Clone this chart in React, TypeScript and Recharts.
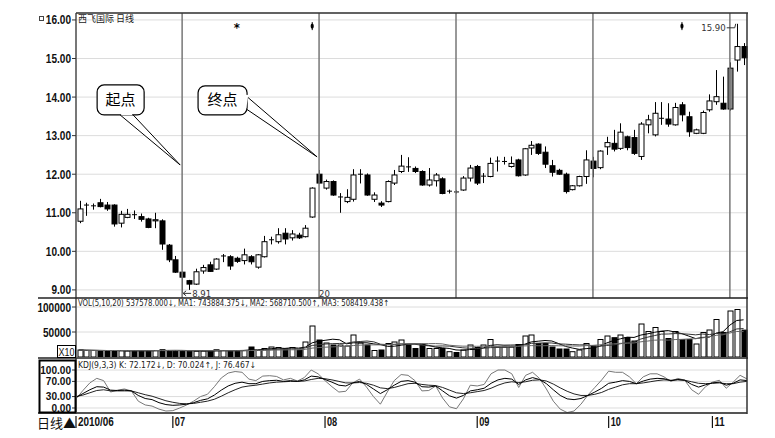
import React from 'react'
import {
    Bar,
    CartesianGrid,
    ComposedChart,
    Line,
    ReferenceDot,
    ReferenceLine,
    XAxis,
    YAxis,
} from 'recharts'

// daily candles, 2010/06 .. 2010/11
const opens = [
    10.78, 11.18, 11.16, 11.26, 11.2, 11.2, 10.73, 10.88, 10.95, 10.9,
    10.84, 10.79, 10.79, 10.16, 9.78, 9.46, 9.24, 9.15, 9.49, 9.65,
    9.54, 9.87, 9.86, 9.82, 9.76, 9.86, 9.59, 9.86, 10.29, 10.25,
    10.47, 10.35, 10.42, 10.38, 10.89, 12.0, 11.64, 11.81, 11.4, 11.29,
    11.35, 11.98, 11.98, 11.35, 11.25, 11.29, 11.77, 12.07, 12.19, 12.15,
    12.07, 11.72, 11.83, 11.88, 11.55, 11.54, 11.59, 11.9, 12.2, 11.94,
    11.94, 12.33, 12.33, 12.2, 12.37, 11.98, 12.68, 12.78, 12.57, 12.22,
    12.1, 12.0, 11.6, 11.7, 11.94, 12.34, 12.17, 12.71, 12.8, 12.67,
    12.97, 12.95, 12.46, 13.28, 13.02, 13.44, 13.43, 13.28, 13.8, 13.49,
    13.06, 13.06, 13.67, 13.88, 13.84, 13.69, 14.96, 15.31,
]
const highs = [
    11.31, 11.26, 11.24, 11.36, 11.28, 11.22, 11.05, 11.1, 11.06, 10.98,
    10.87, 11.0, 10.83, 10.19, 9.88, 9.48, 9.26, 9.55, 9.65, 9.73,
    9.82, 9.93, 9.9, 9.86, 10.07, 9.9, 9.93, 10.4, 10.38, 10.6,
    10.6, 10.55, 10.48, 10.68, 11.66, 12.11, 11.86, 11.84, 11.51, 11.61,
    12.13, 12.13, 12.02, 11.53, 11.3, 11.84, 12.11, 12.5, 12.44, 12.2,
    12.1, 12.16, 12.03, 11.92, 11.6, 11.58, 11.95, 12.24, 12.24, 12.03,
    12.43, 12.46, 12.45, 12.46, 12.4, 12.68, 12.86, 12.8, 12.72, 12.37,
    12.14, 12.04, 11.72, 11.96, 12.62, 12.45, 12.62, 12.97, 13.15, 13.32,
    13.0, 13.15, 13.35, 13.54, 13.87, 13.87, 13.84, 13.85, 13.87, 13.62,
    13.18, 13.65, 14.07, 14.7, 14.53, 14.9, 15.9, 15.4,
]
const lows = [
    10.73, 10.92, 11.08, 11.14, 11.05, 10.64, 10.62, 10.86, 10.84, 10.77,
    10.6, 10.6, 10.04, 9.72, 9.44, 8.91, 9.0, 9.13, 9.42, 9.47,
    9.52, 9.72, 9.52, 9.7, 9.66, 9.66, 9.55, 9.84, 10.18, 10.2,
    10.18, 10.28, 10.32, 10.36, 10.87, 11.75, 11.6, 11.44, 11.0, 11.25,
    11.29, 11.76, 11.44, 11.28, 11.15, 11.27, 11.72, 12.03, 12.06, 12.03,
    11.7, 11.68, 11.68, 11.48, 11.5, 11.5, 11.57, 11.81, 11.72, 11.77,
    11.92, 12.07, 12.25, 12.17, 11.94, 11.96, 12.5, 12.5, 12.16, 11.94,
    11.98, 11.5, 11.58, 11.68, 11.75, 11.92, 12.13, 12.5, 12.59, 12.63,
    12.62, 12.5, 12.37, 13.06, 12.98, 13.28, 13.23, 13.26, 13.37, 12.97,
    13.04, 13.04, 13.62, 13.8, 13.67, 13.65, 14.66, 14.83,
]
const closes = [
    11.1, 11.2, 11.18, 11.16, 11.1, 10.71, 10.96, 10.96, 10.93, 10.83,
    10.62, 10.82, 10.19, 9.78, 9.46, 9.33, 9.15, 9.47, 9.58, 9.48,
    9.8, 9.88, 9.62, 9.74, 9.91, 9.73, 9.91, 10.25, 10.3, 10.43,
    10.32, 10.45, 10.35, 10.6, 11.64, 11.77, 11.81, 11.46, 11.41, 11.4,
    11.98, 12.0, 11.46, 11.46, 11.2, 11.81, 11.98, 12.21, 12.18, 12.07,
    11.72, 11.85, 11.98, 11.5, 11.56, 11.53, 11.9, 12.16, 11.77, 11.95,
    12.28, 12.34, 12.33, 12.28, 11.96, 12.66, 12.75, 12.54, 12.26, 12.05,
    12.0, 11.55, 11.7, 11.94, 12.37, 12.15, 12.6, 12.82, 12.65, 13.09,
    12.69, 12.54, 13.3, 13.41, 13.58, 13.45, 13.3, 13.73, 13.54, 13.1,
    13.15, 13.6, 13.9, 14.01, 13.69, 14.75, 15.31, 15.02,
]

// volume in axis units (x10 shares), thousands
const volumes = [
    14, 13, 13, 12.5, 12.5, 13, 12.5, 12, 12, 12.5,
    13, 13, 14.5, 13, 13, 12.5, 11.5, 11.5, 12, 11.5,
    14.5, 13, 12.5, 13, 13, 20, 13, 17, 20, 19,
    17, 19, 14, 30, 62, 34, 28, 24, 24, 22,
    44, 28, 24, 13, 14, 27, 30, 34, 24, 17,
    24, 17, 17, 17, 10.6, 9, 14, 24, 19, 24,
    35, 20, 20, 20, 25, 42, 44, 27, 27, 20,
    16, 16, 10.6, 14, 27, 22, 35, 42, 38.6, 44,
    39, 32, 66, 51, 59, 51, 37, 51, 35, 35,
    26, 49, 54, 75, 49, 92, 95, 53.76,
]
const volMa5 = [
    14, 13.5, 13.3, 13.1, 13, 12.8, 12.7, 12.5, 12.4, 12.4,
    12.4, 12.5, 13, 13.2, 13.3, 13.2, 12.9, 12.3, 12.1, 11.8,
    12.2, 12.5, 12.7, 12.9, 13.2, 14.3, 14.3, 15.2, 16.6, 17.8,
    17.2, 18.4, 17.8, 19.8, 28.4, 31.8, 33.6, 35.6, 34.4, 26.4,
    28.4, 28.4, 28.4, 26.2, 24.6, 21.2, 21.6, 23.6, 25.8, 26.4,
    25.8, 23.2, 19.8, 18.4, 17.1, 14.1, 13.5, 14.9, 15.3, 18.2,
    23.2, 24.4, 23.6, 23.8, 24, 25.4, 30.2, 31.6, 33, 32,
    26.8, 21.2, 17.9, 15.3, 16.7, 17.9, 21.7, 28, 32.9, 36.3,
    39.7, 39.1, 43.9, 46.4, 49.4, 51.8, 52.8, 49.8, 46.6, 41.8,
    36.8, 39.2, 39.8, 47.8, 50.6, 63.8, 73, 74.4,
]
const volMa10 = [
    14, 13.5, 13.3, 13.1, 13, 13, 12.9, 12.8, 12.7, 12.7,
    12.6, 12.6, 12.75, 12.8, 12.85, 12.8, 12.7, 12.65, 12.65, 12.55,
    12.7, 12.7, 12.5, 12.5, 12.5, 13.25, 13.4, 13.95, 14.75, 15.5,
    15.75, 16.35, 16.5, 18.2, 23.1, 24.5, 26, 26.7, 27.1, 27.4,
    30.1, 31, 32, 30.3, 25.5, 24.8, 25, 26, 26, 25.5,
    23.5, 22.4, 21.7, 22.1, 21.8, 20, 18.4, 17.4, 16.9, 17.6,
    18.7, 19, 19.3, 19.6, 21, 24.3, 27.3, 27.6, 28.4, 28,
    26.1, 25.7, 24.8, 24.2, 24.4, 22.4, 21.5, 23, 24.1, 26.5,
    28.8, 30.4, 36, 39.7, 42.9, 45.8, 46, 46.9, 46.5, 45.6,
    44.3, 46, 44.8, 47.2, 46.2, 50.3, 56.1, 56.9,
]
const volMa20 = [
    14, 13.5, 13.3, 13.1, 13, 13, 12.9, 12.8, 12.7, 12.7,
    12.7, 12.75, 12.9, 12.9, 12.9, 12.9, 12.8, 12.7, 12.7, 12.6,
    12.65, 12.65, 12.6, 12.65, 12.7, 13, 13.05, 13.3, 13.7, 14,
    14.2, 14.5, 14.5, 15.35, 17.8, 18.9, 19.7, 20.3, 20.9, 21.45,
    22.9, 23.7, 24.25, 24.25, 24.3, 24.65, 25.5, 26.35, 26.55, 26.45,
    26.8, 26.7, 26.85, 26.2, 23.6, 22.4, 21.7, 21.7, 21.4, 21.5,
    21.1, 20.7, 20.5, 20.8, 21.4, 22.1, 22.8, 22.5, 22.6, 22.8,
    22.4, 22.3, 22, 21.9, 22.7, 23.3, 24.4, 25.3, 26.3, 27.3,
    27.5, 28.1, 30.4, 31.9, 33.6, 34.1, 33.7, 34.9, 35.3, 36.1,
    36.6, 38.2, 40.4, 43.4, 44.5, 48, 51, 50.8,
]

// KDJ(9,3,3)
const kLine = [
    28, 38, 48, 56, 55, 47, 46, 47, 45, 33,
    25, 22, 14, 9, 7, 8, 10, 14, 20, 24,
    34, 47, 58, 65, 68, 64, 64, 70, 72, 73,
    70, 72, 70, 74, 84, 82, 75, 68, 60, 58,
    66, 70, 62, 50, 38, 48, 60, 70, 72, 68,
    56, 55, 58, 45, 32, 26, 33, 45, 48, 52,
    65, 74, 78, 76, 62, 74, 80, 75, 64, 48,
    33, 24, 22, 25, 33, 42, 52, 65, 68, 72,
    70, 64, 71, 76, 78, 77, 72, 75, 73, 62,
    55, 61, 66, 68, 60, 65, 74, 72.17,
]
const dLine = [
    30, 34, 40, 46, 48, 45, 45, 45, 45, 40,
    35, 31, 25, 19, 15, 12, 11, 12, 15, 18,
    23, 31, 40, 48, 55, 58, 60, 63, 66, 68,
    69, 70, 70, 71, 75, 78, 77, 74, 70, 66,
    66, 67, 65, 60, 53, 51, 54, 59, 64, 65,
    62, 60, 59, 54, 47, 40, 38, 40, 43, 46,
    52, 60, 66, 69, 67, 69, 73, 74, 71, 63,
    53, 44, 37, 33, 33, 36, 41, 49, 55, 61,
    64, 64, 66, 69, 72, 74, 73, 74, 73, 69,
    65, 64, 65, 66, 64, 64, 68, 70.02,
]
const jLine = [
    24, 46, 66, 78, 72, 42, 47, 50, 45, 18,
    8, 5, -3, -8, -7, 0, 8, 18, 30, 36,
    56, 79, 92, 96, 94, 76, 72, 84, 85, 83,
    74, 78, 71, 80, 100, 90, 72, 56, 42, 44,
    66, 76, 55, 30, 10, 42, 72, 88, 86, 72,
    45, 46, 58, 26, 3, -2, 24, 60, 58, 62,
    90, 100, 100, 90, 54, 86, 94, 78, 50, 18,
    -3, -12, -8, 10, 34, 54, 74, 97, 94, 94,
    82, 64, 82, 90, 90, 82, 70, 78, 73, 48,
    36, 56, 68, 73, 52, 68, 86, 76.47,
]

const priceTicks = [9, 10, 11, 12, 13, 14, 15, 16]
const volTicks = [50, 100]
const kdjTicks = [0, 30, 70, 100]
const monthTicks = [0, 14, 36, 58, 77, 92]
const monthLabels = ['2010/06', '07', '08', '09', '10', '11']
const sectionLines = [15, 35, 55, 75, 95]
const infoMarks = [23, 34, 88]
const shadedCandles = [95]

const rows = opens.map((o, i) => ({
    i,
    o,
    h: highs[i],
    l: lows[i],
    c: closes[i],
    range: [lows[i], highs[i]],
    vol: volumes[i],
    ma5: volMa5[i],
    ma10: volMa10[i],
    ma20: volMa20[i],
    k: kLine[i],
    d: dLine[i],
    j: jLine[i],
}))

const axisFont = "'Liberation Sans', Arial, sans-serif"
const smallFont = "'DejaVu Sans Condensed', 'DejaVu Sans', sans-serif"
const cjkFont = "'Noto Sans CJK SC', 'Noto Sans', sans-serif"

// the terminal uses a narrow bold face; squeeze Liberation Sans to its width
function narrowWidth(s: string) {
    let w = 0
    for (const ch of s) w += ch === '.' ? 2.8 : ch === '/' ? 3.2 : 5.6
    return w
}

function ValueTick(props: any) {
    const { x, y, payload, fmt, size = 12.5 } = props
    const s = fmt(payload.value)
    return (
        <text
            x={x}
            y={y + size * 0.36}
            textAnchor='end'
            fontSize={size}
            fontWeight={700}
            fill='#111'
            fontFamily={axisFont}
            textLength={narrowWidth(s)}
            lengthAdjust='spacingAndGlyphs'
        >
            {s}
        </text>
    )
}

function Candle(props: any) {
    const { x, y, width, height, payload, index } = props
    const top = Math.min(y, y + height)
    const bot = Math.max(y, y + height)
    const span = payload.h - payload.l
    const k = span > 0 ? (bot - top) / span : 0
    const yo = top + (payload.h - payload.o) * k
    const yc = top + (payload.h - payload.c) * k
    const cx = Math.round(x + width / 2) + 0.5
    const up = payload.c >= payload.o
    const bTop = Math.min(yo, yc)
    const bBot = Math.max(yo, yc)
    const bx = cx - 2.5
    const fill = shadedCandles.includes(index) ? '#8a8a8a' : up ? '#fff' : '#000'
    return (
        <g>
            <line x1={cx} x2={cx} y1={top} y2={bot} stroke='#000' strokeWidth={1} />
            {bBot - bTop < 1 ? (
                <line x1={bx} x2={bx + 5} y1={bTop} y2={bTop} stroke='#000' strokeWidth={1} />
            ) : (
                <rect x={bx} y={bTop} width={5} height={bBot - bTop} fill={fill} stroke='#000' strokeWidth={1} />
            )}
        </g>
    )
}

function VolBar(props: any) {
    const { x, y, width, height, payload } = props
    const up = payload.c >= payload.o
    const cx = Math.round(x + width / 2) + 0.5
    return (
        <rect x={cx - 2.5} y={y} width={5} height={Math.max(height, 1)} fill={up ? '#fff' : '#000'} stroke='#000' strokeWidth={1} />
    )
}

function MonthTick(props: any) {
    const { x, y, payload } = props
    const s = monthLabels[monthTicks.indexOf(payload.value)]
    return (
        <g>
            <line x1={x} x2={x} y1={y + 3} y2={y + 15} stroke='#111' strokeWidth={1.2} />
            <text
                x={x + 2}
                y={y + 13}
                fontSize={12}
                fontWeight={700}
                fill='#111'
                fontFamily={axisFont}
                textLength={narrowWidth(s) - 1}
                lengthAdjust='spacingAndGlyphs'
            >
                {s}
            </text>
        </g>
    )
}

function callout(label: string, box: [number, number, number, number], baseA: [number, number], baseB: [number, number]) {
    return (p: any) => {
        const { cx, cy } = p
        const [bx, by, bw, bh] = box
        return (
            <g>
                <path
                    d={`M${cx + baseA[0]},${cy + baseA[1]} L${cx - 2},${cy} L${cx + baseB[0]},${cy + baseB[1]}`}
                    fill='#fff'
                    stroke='#000'
                    strokeWidth={1}
                />
                <rect x={cx + bx} y={cy + by} width={bw} height={bh} rx={7} fill='#fff' stroke='#000' strokeWidth={1.2} />
                <path
                    d={`M${cx + baseA[0] + 1},${cy + baseA[1] - 1} L${cx + baseB[0] - 1},${cy + baseB[1] - 1}`}
                    stroke='#fff'
                    strokeWidth={2.5}
                />
                <text
                    x={cx + bx + bw / 2}
                    y={cy + by + bh / 2 + 5}
                    textAnchor='middle'
                    fontSize={15}
                    fill='#000'
                    fontFamily={cjkFont}
                >
                    {label}
                </text>
            </g>
        )
    }
}

const startCallout = callout('起点', [-85, -80, 47, 30], [-62, -50], [-49, -50])
const endCallout = callout('终点', [-121, -71, 49, 29], [-73, -61], [-73, -48])

function LowMark(p: any) {
    const { cx, cy } = p
    return (
        <g>
            <path d={`M${cx + 1},${cy} L${cx + 9},${cy} M${cx + 1},${cy} L${cx + 4},${cy - 2.5} M${cx + 1},${cy} L${cx + 4},${cy + 2.5}`} stroke='#333' strokeWidth={1} fill='none' />
            <text x={cx + 10} y={cy + 3.5} fontSize={9.5} fill='#333' fontFamily={smallFont}>
                8.91
            </text>
        </g>
    )
}

function HighMark(p: any) {
    const { cx, cy } = p
    return (
        <g>
            <path d={`M${cx - 10},${cy + 4} L${cx - 2},${cy + 4} L${cx - 1},${cy}`} stroke='#333' strokeWidth={1} fill='none' />
            <text x={cx - 11} y={cy + 7.5} textAnchor='end' fontSize={9.5} fill='#333' fontFamily={smallFont}>
                15.90
            </text>
        </g>
    )
}

function CountMark(p: any) {
    const { cx, cy } = p
    return (
        <text x={cx} y={cy + 3.5} fontSize={9.5} fill='#333' fontFamily={smallFont}>
            20
        </text>
    )
}

function InfoMark(p: any) {
    const { cx, cy } = p
    if (p.kind === 0) {
        return (
            <text x={cx} y={cy + 6} textAnchor='middle' fontSize={13} fontWeight={700} fill='#000' fontFamily={smallFont}>
                *
            </text>
        )
    }
    return (
        <g>
            <line x1={cx} x2={cx} y1={cy - 4} y2={cy + 4} stroke='#000' strokeWidth={1} />
            <ellipse cx={cx} cy={cy} rx={1.6} ry={2.6} fill='#000' />
        </g>
    )
}

const fixed2 = (v: number) => v.toFixed(2)
const volFmt = (v: number) => String(v * 1000)

export default function App() {
    return (
        <div style={{ position: 'absolute', left: 0, top: 0, width: 775, height: 438, background: '#fff', overflow: 'hidden' }}>
            <div style={{ position: 'absolute', left: 0, top: 0 }}>
                <ComposedChart width={775} height={298} data={rows} margin={{ top: 13, right: 28, bottom: 0, left: 0 }}>
                    <CartesianGrid vertical={false} stroke='#dcdcdc' />
                    <XAxis dataKey='i' hide />
                    <YAxis
                        domain={[8.79, 16.18]}
                        ticks={priceTicks}
                        interval={0}
                        allowDataOverflow
                        width={76}
                        tick={(p: any) => <ValueTick {...p} fmt={fixed2} />}
                        tickSize={4}
                        tickMargin={1}
                        axisLine={{ stroke: '#777', strokeWidth: 2 }}
                        tickLine={{ stroke: '#333' }}
                    />
                    {sectionLines.map((i) => (
                        <ReferenceLine key={i} x={i} stroke='#777' strokeWidth={1.5} />
                    ))}
                    <Bar dataKey='range' barSize={5} shape={(p: any) => <Candle {...p} />} isAnimationActive={false} />
                    <ReferenceDot x={15} y={12.24} shape={startCallout} />
                    <ReferenceDot x={35} y={12.45} shape={endCallout} />
                    <ReferenceDot x={15} y={8.91} shape={LowMark} />
                    <ReferenceDot x={96} y={15.9} shape={HighMark} />
                    <ReferenceDot x={35} y={8.91} shape={CountMark} />
                    {infoMarks.map((i, n) => (
                        <ReferenceDot key={i} x={i} y={15.84} shape={(p: any) => <InfoMark {...p} kind={n} />} />
                    ))}
                </ComposedChart>
            </div>
            <div style={{ position: 'absolute', left: 0, top: 298 }}>
                <ComposedChart width={775} height={60} data={rows} margin={{ top: 0, right: 28, bottom: 1, left: 0 }}>
                    <CartesianGrid vertical={false} stroke='#dcdcdc' />
                    <XAxis dataKey='i' hide />
                    <YAxis
                        domain={[0, 118]}
                        ticks={volTicks}
                        interval={0}
                        allowDataOverflow
                        width={76}
                        tick={(p: any) => <ValueTick {...p} fmt={volFmt} />}
                        tickSize={4}
                        tickMargin={1}
                        axisLine={{ stroke: '#777', strokeWidth: 2 }}
                        tickLine={{ stroke: '#333' }}
                    />
                    <Bar dataKey='vol' barSize={5} shape={(p: any) => <VolBar {...p} />} isAnimationActive={false} />
                    <Line dataKey='ma5' stroke='#000' strokeWidth={1} dot={false} isAnimationActive={false} />
                    <Line dataKey='ma10' stroke='#333' strokeWidth={1} dot={false} isAnimationActive={false} />
                    <Line dataKey='ma20' stroke='#666' strokeWidth={1} dot={false} isAnimationActive={false} />
                </ComposedChart>
            </div>
            <div style={{ position: 'absolute', left: 0, top: 358 }}>
                <ComposedChart width={775} height={80} data={rows} margin={{ top: 0, right: 28, bottom: 0, left: 0 }}>
                    <CartesianGrid vertical={false} stroke='#dcdcdc' />
                    <XAxis
                        dataKey='i'
                        height={25}
                        ticks={monthTicks}
                        interval={0}
                        tick={(p: any) => <MonthTick {...p} />}
                        tickLine={false}
                        tickSize={0}
                        tickMargin={0}
                        axisLine={{ stroke: '#222', strokeWidth: 1.5 }}
                    />
                    <YAxis
                        domain={[-13.2, 131.6]}
                        ticks={kdjTicks}
                        interval={0}
                        allowDataOverflow
                        width={76}
                        tick={(p: any) => <ValueTick {...p} fmt={fixed2} size={10} />}
                        tickSize={4}
                        tickMargin={1}
                        axisLine={{ stroke: '#777', strokeWidth: 2 }}
                        tickLine={{ stroke: '#333' }}
                    />
                    <Line dataKey='j' stroke='#777' strokeWidth={1} dot={false} isAnimationActive={false} />
                    <Line dataKey='d' stroke='#222' strokeWidth={1} dot={false} isAnimationActive={false} />
                    <Line dataKey='k' stroke='#000' strokeWidth={1} dot={false} isAnimationActive={false} />
                </ComposedChart>
            </div>
            <svg width={775} height={438} style={{ position: 'absolute', left: 0, top: 0, pointerEvents: 'none' }}>
                <line x1={76} x2={748} y1={13} y2={13} stroke='#333' strokeWidth={1.5} />
                <line x1={747} x2={747} y1={13} y2={414} stroke='#333' strokeWidth={1.5} />
                <line x1={38} x2={748} y1={298} y2={298} stroke='#222' strokeWidth={1.5} />
                <line x1={38} x2={748} y1={358} y2={358} stroke='#222' strokeWidth={1.5} />
                <line x1={38} x2={76} y1={413} y2={413} stroke='#222' strokeWidth={1.5} />
                <rect x={39.5} y={360.5} width={36} height={52} fill='none' stroke='#000' strokeWidth={2} />
                <rect x={57.5} y={345.5} width={18} height={12} fill='#fff' stroke='#000' strokeWidth={1} />
                <text x={58.5} y={355.5} fontSize={11} fill='#111' fontFamily={axisFont} textLength={16} lengthAdjust='spacingAndGlyphs'>
                    X10
                </text>
                <rect x={39.5} y={16.5} width={4} height={4} fill='none' stroke='#444' strokeWidth={1} />
                <text x={78} y={22} fontSize={9} fill='#222' fontFamily={cjkFont}>
                    西飞国际 日线
                </text>
                <text x={78} y={306} fontSize={8.5} fill='#222' fontFamily={smallFont} textLength={311} lengthAdjust='spacingAndGlyphs'>
                    VOL(5,10,20) 537578.000↓, MA1: 743884.375↓, MA2: 568710.500↑, MA3: 508419.438↑
                </text>
                <text x={78} y={368} fontSize={8.5} fill='#222' fontFamily={smallFont} textLength={178} lengthAdjust='spacingAndGlyphs'>
                    KDJ(9,3,3) K: 72.172↓, D: 70.024↑, J: 76.467↓
                </text>
                <text x={37} y={428} fontSize={13} fill='#111' fontFamily={cjkFont}>
                    日线▲
                </text>
            </svg>
        </div>
    )
}
